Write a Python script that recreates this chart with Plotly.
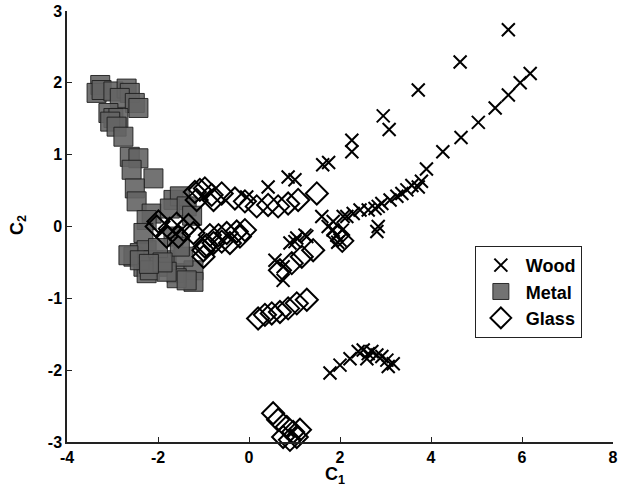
import plotly.graph_objects as go

wood_x = [5.70, 4.64, 3.72, 2.95, 3.08, 2.26, 2.26, 1.62, 1.75, 0.86, 1.01, 0.42, -0.05,
          6.18, 5.96, 5.70, 5.41, 5.04, 4.66, 4.26, 3.90, 3.79, 3.72, 3.58, 3.47, 3.36, 3.25,
          3.10, 2.92, 2.84, 2.77, 2.62, 2.44, 2.29, 2.15, 2.07, 1.85, 1.60, 2.84, 2.81, 1.74,
          1.85, 1.93, 2.00, 2.05, 1.95, 1.27, 1.23, 1.05, 1.01, 0.90, 0.57, 0.75, 0.75,
          1.78, 2.00, 2.22, 2.40, 2.51, 2.62, 2.70, 2.81, 2.92, 3.03, 3.17, 2.59, 3.06]
wood_y = [2.74, 2.29, 1.90, 1.54, 1.35, 1.20, 1.04, 0.86, 0.89, 0.69, 0.65, 0.55, 0.41,
          2.13, 2.00, 1.83, 1.65, 1.45, 1.24, 1.04, 0.80, 0.63, 0.55, 0.57, 0.51, 0.46, 0.42,
          0.37, 0.32, 0.28, 0.25, 0.23, 0.23, 0.18, 0.14, 0.14, 0.07, 0.14, 0.00, -0.07, 0.00,
          -0.05, -0.12, -0.19, -0.05, -0.22, -0.14, -0.12, -0.16, -0.21, -0.23, -0.47, -0.56, -0.75,
          -2.04, -1.93, -1.84, -1.74, -1.72, -1.77, -1.74, -1.79, -1.81, -1.86, -1.91, -1.84, -1.95]

metal_x = [-3.27, -3.35, -3.24, -2.98, -2.69, -2.62, -2.84, -2.51, -2.43, -3.09, -2.98, -2.87,
           -3.05, -2.91, -2.76, -2.62, -2.43, -2.58, -2.10, -2.51, -2.47, -2.14, -2.25, -1.66,
           -1.52, -1.74, -1.37, -1.25, -2.32, -2.54, -2.40, -2.25, -2.10, -2.32, -1.96, -2.25,
           -1.59, -1.22, -1.22, -1.59, -1.81, -1.44, -1.66, -1.52, -2.65, -2.40, -2.18, -1.37,
           -1.81, -2.00, -1.90, -2.20]
metal_y = [1.97, 1.86, 1.90, 1.88, 1.92, 1.86, 1.79, 1.72, 1.65, 1.58, 1.51, 1.51,
           1.46, 1.39, 1.25, 0.97, 0.95, 0.79, 0.67, 0.53, 0.35, 0.18, 0.09, 0.37,
           0.42, 0.25, 0.28, 0.15, -0.09, -0.42, -0.37, -0.33, -0.47, -0.56, -0.56, -0.65,
           -0.65, -0.61, -0.77, -0.72, -0.47, -0.42, -0.14, -0.28, -0.40, -0.47, -0.61, -0.75,
           -0.63, -0.30, -0.50, -0.52]

glass_x = [-1.19, -0.97, -0.82, -0.60, -0.31, -0.09, 0.17, 0.42, 0.64, 0.86, 1.08, 1.49, -0.78,
           -0.86, -0.67, -0.49, -0.27, -0.09, -0.93, -0.78, -0.60, -1.00, -0.42, -0.20,
           -1.99, -1.74, -1.59, -1.44, -1.33, -1.22, -1.81, -1.55, -1.08, -0.97, -1.00, -1.15, -2.03,
           1.41, 1.16, 0.94, 0.68, 1.96, 2.05,
           1.27, 1.05, 0.86, 0.68, 0.50, 0.35, 0.20,
           0.53, 0.64, 0.83, 0.97, 1.12, 0.90, 0.75, 1.05]
glass_y = [0.48, 0.53, 0.44, 0.46, 0.39, 0.35, 0.28, 0.30, 0.28, 0.32, 0.37, 0.46, 0.37,
           -0.12, -0.12, -0.09, -0.07, -0.05, -0.26, -0.23, -0.21, -0.33, -0.23, -0.14,
           0.07, -0.03, 0.04, -0.05, 0.02, -0.09, -0.14, -0.14, 0.51, -0.28, -0.42, 0.37, 0.00,
           -0.33, -0.42, -0.51, -0.61, -0.12, -0.20,
           -1.02, -1.07, -1.14, -1.19, -1.21, -1.23, -1.28,
           -2.60, -2.69, -2.79, -2.86, -2.83, -2.97, -2.93, -2.93]

x_ticks = [-4, -2, 0, 2, 4, 6, 8]
y_ticks = [-3, -2, -1, 0, 1, 2, 3]

FONT = "Liberation Sans, Arial, Helvetica, sans-serif"

fig = go.Figure()
fig.add_trace(go.Scatter(
    x=wood_x, y=wood_y, mode="markers", name="<b>Wood</b>", cliponaxis=False,
    marker=dict(symbol="x-thin", size=13, color="black", line=dict(color="black", width=2))))
fig.add_trace(go.Scatter(
    x=metal_x, y=metal_y, mode="markers", name="<b>Metal</b>", cliponaxis=False,
    marker=dict(symbol="square", size=19, color="rgba(100,100,100,0.9)",
                line=dict(color="rgba(30,30,30,0.9)", width=1))))
fig.add_trace(go.Scatter(
    x=glass_x, y=glass_y, mode="markers", name="<b>Glass</b>", cliponaxis=False,
    marker=dict(symbol="diamond-open", size=17, color="black", line=dict(color="black", width=2))))

axis_common = dict(showline=True, linecolor="#222", linewidth=1.5, ticks="inside", ticklen=5,
                   tickwidth=1.2, tickcolor="#222", showgrid=False, zeroline=False, mirror=False,
                   automargin=False,
                   tickfont=dict(family=FONT, size=16, color="black"))

fig.update_xaxes(range=[-4, 8], tickvals=x_ticks, ticktext=["<b>%d</b>" % v for v in x_ticks],
                 **axis_common)
fig.update_yaxes(range=[-3, 3], tickvals=y_ticks, ticktext=["<b>%d</b>" % v for v in y_ticks],
                 **axis_common)

fig.add_annotation(text="<b>C<sub>1</sub></b>", xref="paper", yref="paper", x=0.49, y=-0.078,
                   xanchor="center", yanchor="middle", showarrow=False,
                   font=dict(family=FONT, size=18, color="black"))
fig.add_annotation(text="<b>C<sub>2</sub></b>", xref="paper", yref="paper", x=-0.09, y=0.503,
                   xanchor="center", yanchor="middle", showarrow=False, textangle=-90,
                   font=dict(family=FONT, size=18, color="black"))

fig.update_layout(
    width=629, height=493,
    margin=dict(l=67, r=16, t=11, b=51),
    plot_bgcolor="white", paper_bgcolor="white",
    legend=dict(x=0.747, y=0.455, xanchor="left", yanchor="top",
                bordercolor="#222", borderwidth=1, bgcolor="white",
                font=dict(family=FONT, size=18, color="black"),
                tracegroupgap=0, itemwidth=40),
)

fig.write_html("out.html", config={"displayModeBar": False})

with open("out.html", "r", encoding="utf-8") as f:
    html = f.read()
html = html.replace("<head>", "<head><style>html,body{margin:0;padding:0;overflow:hidden;}</style>", 1)
with open("out.html", "w", encoding="utf-8") as f:
    f.write(html)
